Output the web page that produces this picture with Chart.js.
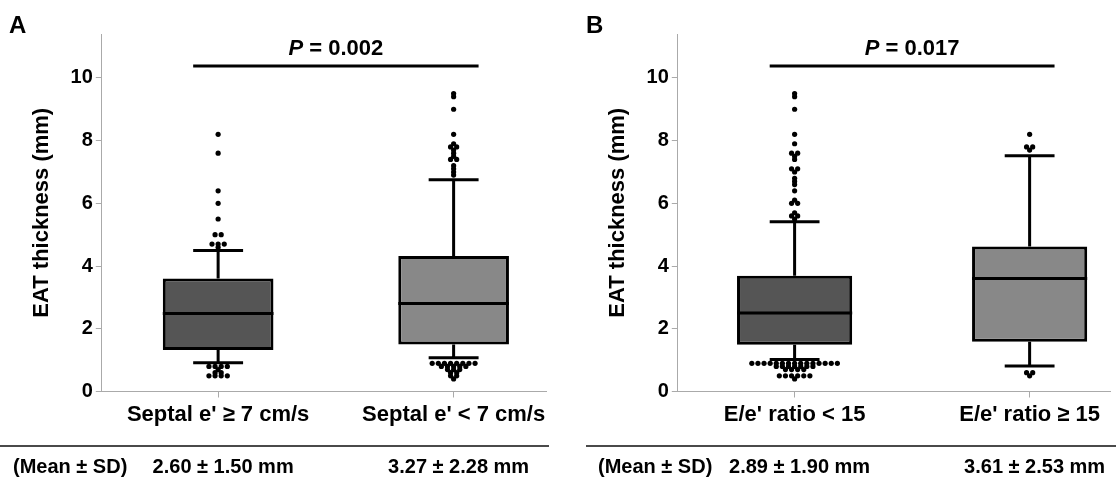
<!DOCTYPE html>
<html>
<head>
<meta charset="utf-8">
<script src="https://cdn.jsdelivr.net/npm/chart.js@4"></script>
<style>
  html, body { margin: 0; padding: 0; background: #fff; }
  #wrap { position: relative; width: 1116px; height: 482px; }
  canvas { position: absolute; top: 0; }
  #chartA { left: 0; }
  #chartB { left: 576px; }
</style>
</head>
<body>
<div id="wrap">
  <canvas id="chartA" width="556" height="482"></canvas>
  <canvas id="chartB" width="540" height="482"></canvas>
</div>
<script>
// panel A
const categoriesA = ["Septal e' \u2265 7 cm/s", "Septal e' < 7 cm/s"]
const q1A = [1.32, 1.50]
const medianA = [2.49, 2.81]
const q3A = [3.60, 4.32]
const whiskerLowA = [0.92, 1.08]
const whiskerHighA = [4.50, 6.75]
const outliersA0 = [8.2, 7.6, 6.4, 6.0, 5.5, 5.0, 5.0, 4.7, 4.7, 4.7, 4.6,
                    0.8, 0.8, 0.8, 0.8, 0.7, 0.6, 0.6, 0.5, 0.5, 0.5, 0.5]
const outliersA1 = [9.5, 9.4, 9.0, 8.2, 7.9, 7.8, 7.8, 7.7, 7.6, 7.5, 7.4, 7.4, 7.2, 7.1, 7.0, 6.9,
                    0.9, 0.9, 0.9, 0.9, 0.9, 0.9, 0.9, 0.9, 0.8, 0.8, 0.8, 0.8, 0.8,
                    0.7, 0.7, 0.7, 0.6, 0.6, 0.5, 0.5, 0.4]
const meanSdA = ["2.60 \u00b1 1.50 mm", "3.27 \u00b1 2.28 mm"]
const pValueA = "0.002"

// panel B
const categoriesB = ["E/e' ratio < 15", "E/e' ratio \u2265 15"]
const q1B = [1.49, 1.59]
const medianB = [2.50, 3.60]
const q3B = [3.69, 4.62]
const whiskerLowB = [1.02, 0.81]
const whiskerHighB = [5.41, 7.52]
const outliersB0 = [9.5, 9.4, 9.0, 8.2, 7.9, 7.6, 7.6, 7.5, 7.4, 7.1, 7.1, 7.0, 6.8, 6.7, 6.6, 6.4,
                    6.1, 6.0, 6.0, 5.7, 5.6, 5.6, 5.5,
                    0.9, 0.9, 0.9, 0.9, 0.9, 0.9, 0.9, 0.9, 0.9, 0.9, 0.9, 0.9, 0.9, 0.9, 0.9,
                    0.8, 0.8, 0.8, 0.8, 0.8, 0.8, 0.8, 0.7, 0.7, 0.7, 0.7,
                    0.5, 0.5, 0.5, 0.5, 0.5, 0.5, 0.4]
const outliersB1 = [8.2, 7.8, 7.8, 7.7, 0.6, 0.6, 0.5]
const meanSdB = ["2.89 \u00b1 1.90 mm", "3.61 \u00b1 2.53 mm"]
const pValueB = "0.017"

const yTicks = [0, 2, 4, 6, 8, 10]
const yTitle = "EAT thickness (mm)"
const meanLabel = "(Mean \u00b1 SD)"
const sigLevel = 10.38

const FONT = '"Liberation Sans", Arial, sans-serif'
const boxColors = ["#555555", "#888888"]
const DOT_GAP = 0.026
const CAP = 0.106

// spread equal values side by side
function swarm(values, center) {
    const counts = {}
    const seen = {}
    values.forEach((v) => counts[v] = (counts[v] || 0) + 1)
    return values.map((v) => {
        seen[v] = (seen[v] || 0) + 1
        return {x: center + (seen[v] - 1 - (counts[v] - 1) / 2) * DOT_GAP, y: v}
    })
}

function boxLines(q1, med, q3, lo, hi, half) {
    const pts = []
    for (let i = 0; i < q1.length; i++) {
        pts.push({x: i - half, y: med[i]}, {x: i + half, y: med[i]}, {x: i, y: null})
        pts.push({x: i, y: q3[i]}, {x: i, y: hi[i]}, {x: i, y: null})
        pts.push({x: i - CAP, y: hi[i]}, {x: i + CAP, y: hi[i]}, {x: i, y: null})
        pts.push({x: i, y: q1[i]}, {x: i, y: lo[i]}, {x: i, y: null})
        pts.push({x: i - CAP, y: lo[i]}, {x: i + CAP, y: lo[i]}, {x: i, y: null})
    }
    return pts
}

const panelDecor = {
    id: "panelDecor",
    afterDraw(chart, args, opts) {
        const ctx = chart.ctx
        const xs = chart.scales.x
        const ys = chart.scales.y
        ctx.save()
        ctx.fillStyle = "#000"
        ctx.textBaseline = "alphabetic"
        ctx.textAlign = "left"
        ctx.font = "bold 24px " + FONT
        ctx.fillText(opts.letter, opts.letterX, 33)

        // P value over the significance bar
        const cx = (xs.getPixelForValue(0) + xs.getPixelForValue(1)) / 2
        const py = ys.getPixelForValue(sigLevel) - 11
        ctx.font = "italic bold 22px " + FONT
        const wP = ctx.measureText("P").width
        ctx.font = "bold 22px " + FONT
        const rest = " = " + opts.p
        const wR = ctx.measureText(rest).width
        const x0 = cx - (wP + wR) / 2
        ctx.font = "italic bold 22px " + FONT
        ctx.fillText("P", x0, py)
        ctx.font = "bold 22px " + FONT
        ctx.fillText(rest, x0 + wP, py)

        // rule and mean +- SD row
        ctx.strokeStyle = "#4a4a4a"
        ctx.lineWidth = 2
        ctx.beginPath()
        ctx.moveTo(opts.ruleFrom, 446)
        ctx.lineTo(opts.ruleTo, 446)
        ctx.stroke()
        ctx.font = "bold 20px " + FONT
        ctx.textBaseline = "middle"
        ctx.fillText(meanLabel, opts.labelX, 467)
        ctx.textAlign = "center"
        opts.means.forEach((m, i) => ctx.fillText(m, xs.getPixelForValue(i) + 5, 467))
        ctx.restore()
    }
}

function makeChart(id, p) {
    const half = p.boxPct / 2
    const config = {
        type: "bar",
        data: {
            datasets: [
                {
                    type: "scatter",
                    order: 1,
                    data: swarm(p.out0, 0).concat(swarm(p.out1, 1)),
                    pointRadius: 2.6,
                    pointBackgroundColor: "#000",
                    pointBorderWidth: 0,
                    clip: false
                },
                {
                    type: "line",
                    order: 2,
                    data: boxLines(p.q1, p.med, p.q3, p.lo, p.hi, half)
                        .concat([{x: -CAP, y: sigLevel}, {x: 1 + CAP, y: sigLevel}]),
                    borderColor: "#000",
                    borderWidth: 3,
                    pointRadius: 0,
                    spanGaps: false,
                    clip: false
                },
                {
                    type: "bar",
                    order: 3,
                    data: p.q1.map((v, i) => ({x: i, y: [v, p.q3[i]]})),
                    backgroundColor: boxColors,
                    borderColor: "#000",
                    borderWidth: 3,
                    borderSkipped: false,
                    barPercentage: p.boxPct,
                    categoryPercentage: 1
                }
            ]
        },
        options: {
            responsive: false,
            animation: false,
            devicePixelRatio: 1,
            layout: {padding: {left: 29.2, right: p.padRight, top: 34, bottom: 0}},
            plugins: {
                legend: {display: false},
                tooltip: {enabled: false},
                panelDecor: p.decor
            },
            scales: {
                x: {
                    type: "linear",
                    min: p.xmin,
                    max: p.xmax,
                    offset: false,
                    afterBuildTicks: (s) => { s.ticks = [{value: 0}, {value: 1}] },
                    afterFit: (s) => { s.height = 482 - 391.5 },
                    grid: {offset: false, drawOnChartArea: false, drawTicks: true, tickLength: 6, color: "#aaaaaa"},
                    border: {display: true, color: "#aaaaaa", width: 1},
                    ticks: {
                        autoSkip: false,
                        maxRotation: 0,
                        padding: 4,
                        color: "#000",
                        font: {family: FONT, size: 22, weight: "bold"},
                        callback: (v, i) => p.cats[i]
                    }
                },
                y: {
                    min: 0,
                    max: 11.4,
                    afterBuildTicks: (s) => { s.ticks = yTicks.map((v) => ({value: v})) },
                    afterFit: (s) => { s.width = 72.6 },
                    grid: {drawOnChartArea: false, drawTicks: true, tickLength: 6, color: "#aaaaaa"},
                    border: {display: true, color: "#aaaaaa", width: 1},
                    ticks: {
                        padding: 3,
                        color: "#000",
                        font: {family: FONT, size: 20, weight: "bold"}
                    },
                    title: {
                        display: true,
                        text: yTitle,
                        color: "#000",
                        padding: {top: 0, bottom: 0},
                        font: {family: FONT, size: 22, weight: "bold"}
                    }
                }
            }
        },
        plugins: [panelDecor]
    }
    return new Chart(document.getElementById(id), config)
}

makeChart("chartA", {
    cats: categoriesA, q1: q1A, med: medianA, q3: q3A, lo: whiskerLowA, hi: whiskerHighA,
    out0: outliersA0, out1: outliersA1,
    boxPct: 0.47, xmin: -0.494, xmax: 1.394, padRight: 9.6,
    decor: {letter: "A", letterX: 9, p: pValueA, means: meanSdA, labelX: 13, ruleFrom: 0, ruleTo: 549}
})

makeChart("chartB", {
    cats: categoriesB, q1: q1B, med: medianB, q3: q3B, lo: whiskerLowB, hi: whiskerHighB,
    out0: outliersB0, out1: outliersB1,
    boxPct: 0.49, xmin: -0.497, xmax: 1.342, padRight: 6,
    decor: {letter: "B", letterX: 10, p: pValueB, means: meanSdB, labelX: 22, ruleFrom: 10, ruleTo: 540}
})
</script>
</body>
</html>
